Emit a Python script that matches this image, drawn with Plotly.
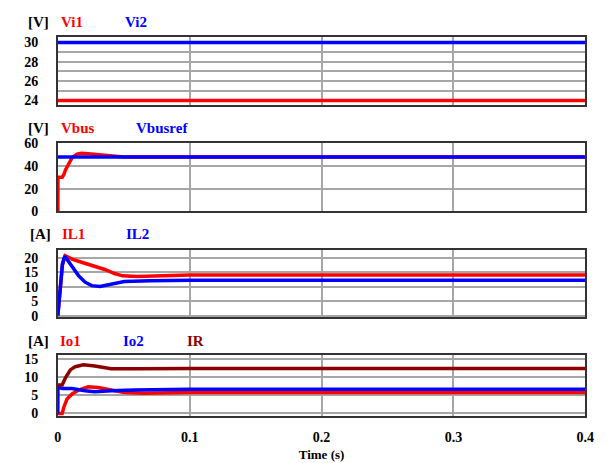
import plotly.graph_objects as go
from plotly.subplots import make_subplots

# ---- input voltages (V) ----
t_vi = [0.0, 0.4]
vi1 = [24.0, 24.0]
vi2 = [30.0, 30.0]

# ---- DC bus voltage and reference (V) ----
t_vbus = [0.0, 0.0001, 0.0033, 0.0046, 0.0058, 0.0083, 0.0108, 0.0145, 0.018, 0.023,
          0.028, 0.033, 0.038, 0.042, 0.05, 0.07, 0.1, 0.2, 0.3, 0.4]
vbus = [0.0, 30.0, 30.0, 32.5, 36.6, 42.3, 47.5, 50.6, 51.3, 51.0,
        50.5, 50.0, 49.3, 48.6, 48.1, 48.0, 48.0, 48.0, 48.0, 48.0]
t_vref = [0.0, 0.4]
vbusref = [48.0, 48.0]

# ---- inductor currents (A) ----
t_il1 = [0.0, 0.001, 0.002, 0.0035, 0.0055, 0.0108, 0.018, 0.028, 0.0356, 0.043,
         0.049, 0.06, 0.078, 0.1, 0.2, 0.3, 0.4]
il1 = [0.0, 5.0, 11.0, 17.5, 20.8, 19.6, 18.5, 17.2, 16.0, 14.6,
       13.8, 13.6, 13.8, 14.1, 14.1, 14.1, 14.1]
t_il2 = [0.0, 0.001, 0.002, 0.0035, 0.0053, 0.0108, 0.0158, 0.0207, 0.0257, 0.032,
         0.0405, 0.0504, 0.07, 0.1, 0.2, 0.3, 0.4]
il2 = [0.0, 6.0, 12.0, 18.0, 20.6, 17.2, 13.8, 11.6, 10.4, 10.1,
       10.8, 11.8, 12.1, 12.3, 12.3, 12.3, 12.3]

# ---- output currents (A) ----
t_io1 = [0.0, 0.0033, 0.0046, 0.007, 0.0108, 0.0158, 0.023, 0.0306, 0.0405, 0.0504,
         0.065, 0.1, 0.2, 0.3, 0.4]
io1 = [0.0, 0.0, 1.8, 4.0, 5.4, 6.5, 7.4, 7.2, 6.5, 5.8,
       5.6, 5.8, 5.8, 5.8, 5.8]
t_io2 = [0.0, 0.0001, 0.0033, 0.0108, 0.0207, 0.028, 0.0405, 0.058, 0.1, 0.2, 0.3, 0.4]
io2 = [0.0, 7.35, 6.9, 6.9, 6.3, 6.0, 6.3, 6.5, 6.7, 6.7, 6.7, 6.7]
t_ir = [0.0, 0.0033, 0.0058, 0.0095, 0.0132, 0.0195, 0.028, 0.0356, 0.0405, 0.06,
        0.1, 0.2, 0.3, 0.4]
ir = [7.9, 7.9, 9.9, 12.1, 13.0, 13.5, 13.2, 12.8, 12.4, 12.4,
      12.5, 12.5, 12.5, 12.5]

x_ticks = [0, 0.1, 0.2, 0.3, 0.4]
x_ticktext = ["0", "0.1", "0.2", "0.3", "0.4"]

RED = "#ff0000"
BLUE = "#0000ff"
DARKRED = "#8b0000"
LW = 3.5
SERIF = "Liberation Serif, Times New Roman, serif"

W, H = 607, 463
fig = make_subplots(rows=4, cols=1, shared_xaxes=True)

fig.add_trace(go.Scatter(x=t_vi, y=vi1, line=dict(color=RED, width=LW)), row=1, col=1)
fig.add_trace(go.Scatter(x=t_vi, y=vi2, line=dict(color=BLUE, width=LW)), row=1, col=1)

fig.add_trace(go.Scatter(x=t_vbus, y=vbus, line=dict(color=RED, width=LW)), row=2, col=1)
fig.add_trace(go.Scatter(x=t_vref, y=vbusref, line=dict(color=BLUE, width=LW)), row=2, col=1)

fig.add_trace(go.Scatter(x=t_il1, y=il1, line=dict(color=RED, width=LW)), row=3, col=1)
fig.add_trace(go.Scatter(x=t_il2, y=il2, line=dict(color=BLUE, width=LW)), row=3, col=1)

fig.add_trace(go.Scatter(x=t_io1, y=io1, line=dict(color=RED, width=LW)), row=4, col=1)
fig.add_trace(go.Scatter(x=t_io2, y=io2, line=dict(color=BLUE, width=LW)), row=4, col=1)
fig.add_trace(go.Scatter(x=t_ir, y=ir, line=dict(color=DARKRED, width=LW)), row=4, col=1)

fig.update_traces(mode="lines", showlegend=False, hoverinfo="skip")

FONT = dict(family=SERIF, size=14, color="black", weight="bold")
GRID = "#a6a6a6"


def ydom(top_px, bottom_px):
    return [(H - bottom_px) / H, (H - top_px) / H]


panels = [
    # (domain, range, tickvals, grid step)
    (ydom(30.7, 101.0), [23.55, 30.6], [24, 26, 28, 30], 1),
    (ydom(140.7, 211.0), [0, 60.3], [0, 20, 40, 60], 20),
    (ydom(250.7, 320.5), [-0.5, 22.9], [0, 5, 10, 15, 20], 5),
    (ydom(360.0, 423.0), [-0.8, 16.15], [0, 5, 10, 15], 5),
]

xdom = [55 / W, 594 / W]
for i, (dom, rng, tv, step) in enumerate(panels, start=1):
    fig.update_yaxes(
        row=i, col=1, domain=dom, range=rng, tickvals=tv,
        ticktext=[str(v) for v in tv], tickfont=FONT, ticks="", ticklabelstandoff=15,
        showgrid=False, zeroline=False,
        minor=dict(dtick=step, tick0=0, showgrid=True, gridcolor=GRID, gridwidth=1.5),
        showline=True, mirror=True, linecolor="#333333", linewidth=1.5,
    )
    fig.update_xaxes(
        row=i, col=1, domain=xdom, range=[0, 0.4], tickvals=x_ticks, ticktext=x_ticktext,
        showgrid=True, gridcolor=GRID, gridwidth=1.5, zeroline=False, ticks="",
        showline=True, mirror=True, linecolor="#333333", linewidth=1.5,
        showticklabels=(i == 4), tickfont=FONT, ticklabelstandoff=7,
    )

fig.update_xaxes(row=4, col=1,
                 title=dict(text="Time (s)", font=dict(family=SERIF, size=13, color="black",
                                                       weight="bold"), standoff=6))

# panel headings: unit and signal names
labels = [
    ("[V]", 22, 15, "black"), ("Vi1", 56, 15, RED), ("Vi2", 122, 15, BLUE),
    ("[V]", 22, 125, "black"), ("Vbus", 56, 125, RED), ("Vbusref", 133, 125, BLUE),
    ("[A]", 25, 235, "black"), ("IL1", 57, 235, RED), ("IL2", 123, 235, BLUE),
    ("[A]", 22, 345, "black"), ("Io1", 55, 345, RED), ("Io2", 120, 345, BLUE),
    ("IR", 185, 345, DARKRED),
]
for text, xp, yp, col in labels:
    fig.add_annotation(
        text=text, x=xp / W, y=(H - yp) / H, xref="paper", yref="paper",
        xanchor="left", yanchor="middle", showarrow=False,
        font=dict(family=SERIF, size=15, color=col, weight="bold"),
    )

fig.update_layout(
    width=W, height=H, margin=dict(l=0, r=0, t=0, b=0),
    plot_bgcolor="white", paper_bgcolor="white",
)

fig.write_html("out.html")
